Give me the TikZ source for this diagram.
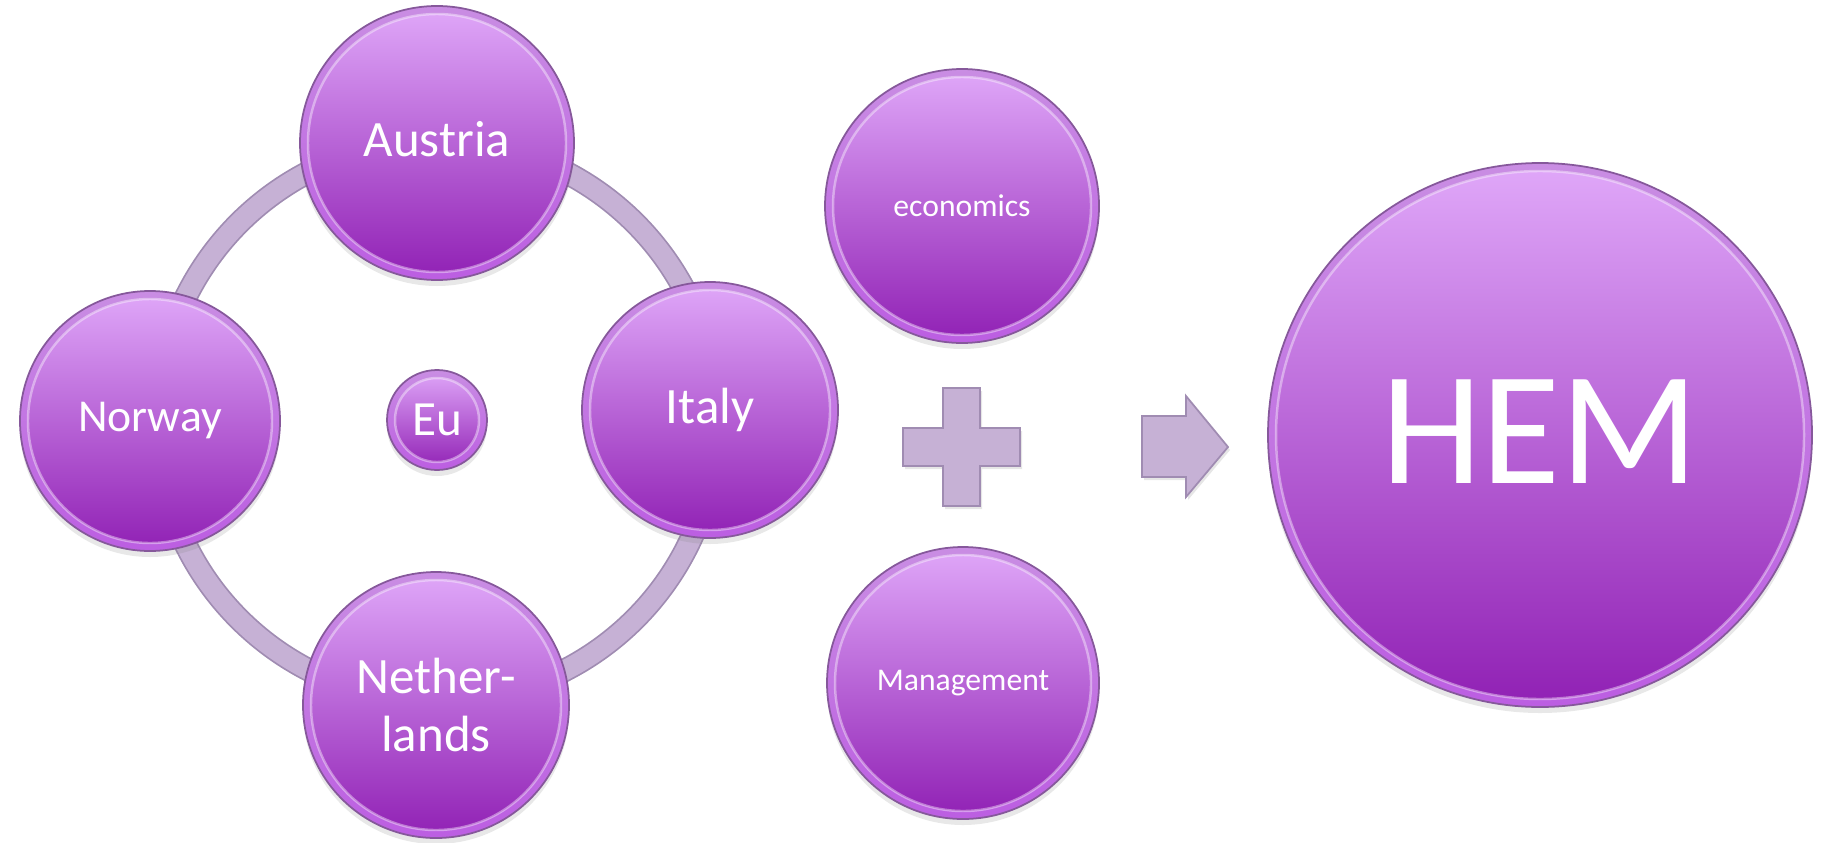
\documentclass[tikz,border=0pt]{standalone}
\usepackage{fontspec}
\setmainfont{Carlito}
\usetikzlibrary{calc,shadows}
\definecolor{ballTop}{HTML}{E0A8F9}
\definecolor{ballBottom}{HTML}{9020B4}
\definecolor{rimTop}{HTML}{C98DE3}
\definecolor{rimBottom}{HTML}{BC5EE2}
\definecolor{ballEdge}{HTML}{86589B}
\definecolor{ringFill}{HTML}{C6B1D5}
\definecolor{ringEdge}{HTML}{A08CB2}
\tikzstyle{ball} = [circle, inner sep=0pt, draw=ballEdge, line width=0.5pt, top color=rimTop, bottom color=rimBottom, text=white, align=center,
  drop shadow={opacity=0.18, shadow xshift=0pt, shadow yshift=-0.06cm},
  path picture={\shade[top color=ballTop, bottom color=ballBottom] let \p1=(path picture bounding box.north), \p2=(path picture bounding box.center) in (\p2) circle ({\y1-\y2-0.08cm});
    \draw[white, opacity=0.4, line width=0.7pt] let \p1=(path picture bounding box.north), \p2=(path picture bounding box.center) in (\p2) circle ({\y1-\y2-0.08cm});}]
\tikzstyle{ring} = [draw=ringEdge, line width=0.5pt, double=ringFill, double distance=0.2cm]
\tikzstyle{block} = [fill=ringFill, draw=ringEdge, line width=0.5pt, drop shadow={opacity=0.2, shadow xshift=0.02cm, shadow yshift=-0.03cm}]

\begin{document}
\begin{tikzpicture}
	\useasboundingbox (0,0) rectangle (18.28,8.42);

	% ring of countries
	\coordinate (hub) at (4.37,4.21);
	\draw [ring] (hub) circle (2.8);

	\node (eu) [ball, minimum size=1.0cm, font=\fontsize{14}{16}\selectfont] at (4.37,4.22) {Eu};
	\node (austria) [ball, minimum size=2.74cm, font=\fontsize{14.5}{17}\selectfont] at (4.37,6.99) {\raisebox{0.08cm}{Austria}};
	\node (norway) [ball, minimum size=2.6cm, font=\fontsize{13}{15}\selectfont] at (1.50,4.21) {Norway};
	\node (italy) [ball, minimum size=2.56cm, font=\fontsize{14.5}{17}\selectfont] at (7.10,4.32) {Italy};
	\node (nether) [ball, minimum size=2.66cm, font=\fontsize{14.5}{16.5}\selectfont] at (4.36,1.37) {Nether-\\lands};

	% subjects
	\node (econ) [ball, minimum size=2.74cm, font=\fontsize{9}{11}\selectfont] at (9.62,6.36) {economics};
	\node (mgmt) [ball, minimum size=2.72cm, font=\fontsize{9}{11}\selectfont] at (9.63,1.59) {Management};

	% plus and arrow
	\filldraw [block] (9.43,4.54) -- (9.80,4.54) -- (9.80,4.14) -- (10.20,4.14) -- (10.20,3.76) -- (9.80,3.76) -- (9.80,3.36) -- (9.43,3.36) -- (9.43,3.76) -- (9.03,3.76) -- (9.03,4.14) -- (9.43,4.14) -- cycle;
	\filldraw [block] (11.42,4.26) -- (11.86,4.26) -- (11.86,4.46) -- (12.28,3.95) -- (11.86,3.45) -- (11.86,3.65) -- (11.42,3.65) -- cycle;

	\node (hem) [ball, minimum size=5.44cm, font=\fontsize{46}{52}\selectfont] at (15.40,4.07) {\raisebox{0.06cm}{HEM}};
\end{tikzpicture}
\end{document}
